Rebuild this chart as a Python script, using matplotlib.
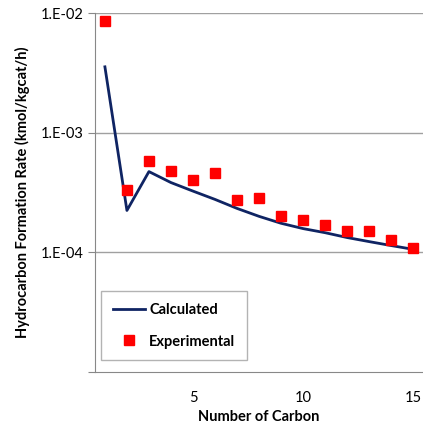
import matplotlib
matplotlib.use("Agg")
import matplotlib.pyplot as plt
from matplotlib.ticker import FixedLocator, NullLocator

plt.rcParams['font.family'] = ['Lato', 'DejaVu Sans']

# carbon number
carbon = [1, 2, 3, 4, 5, 6, 7, 8, 9, 10, 11, 12, 13, 14, 15]
# model values
calculated = [3.55e-3, 2.24e-4, 4.73e-4, 3.83e-4, 3.25e-4, 2.77e-4, 2.33e-4,
              2.0e-4, 1.75e-4, 1.58e-4, 1.46e-4, 1.33e-4, 1.23e-4, 1.14e-4, 1.06e-4]
# measured values
experimental = [8.5e-3, 3.35e-4, 5.75e-4, 4.75e-4, 4.05e-4, 4.6e-4, 2.75e-4,
                2.85e-4, 2.0e-4, 1.85e-4, 1.7e-4, 1.5e-4, 1.5e-4, 1.26e-4, 1.08e-4]

y_ticks = [1e-4, 1e-3, 1e-2]
y_labels = ['1.E-04', '1.E-03', '1.E-02']
x_ticks = [5, 10, 15]

fig = plt.figure(figsize=(4.23, 4.24), dpi=100)
ax = fig.add_axes([0.2246, 0.1226, 0.7754, 0.8467])

ax.plot(carbon, calculated, color='#0F2463', lw=2.0, label='Calculated', zorder=3)
ax.plot(carbon, experimental, ls='none', marker='s', ms=7.5, color='#FF0000',
        mec='#FF0000', label='Experimental', zorder=4)

ax.set_yscale('log')
ax.set_ylim(1e-5, 1e-2)
ax.set_xlim(0.55, 15.45)

ax.yaxis.set_major_locator(FixedLocator([1e-5] + y_ticks))
ax.set_yticklabels([''] + y_labels)
ax.yaxis.set_minor_locator(NullLocator())
ax.set_xticks(x_ticks)
ax.tick_params(axis='x', length=0, pad=14, labelsize=10.5)
ax.tick_params(axis='y', length=5, color='#888888', pad=3, labelsize=10.5)

for yv in y_ticks:
    ax.axhline(yv, color='#A0A0A0', lw=1.0, zorder=1)

for s in ['top', 'right']:
    ax.spines[s].set_visible(False)
ax.spines['left'].set_color('#888888')
ax.spines['bottom'].set_color('#888888')

ax.set_xlabel('Number of Carbon', fontweight='bold', fontsize=10.5, labelpad=3)
ax.set_ylabel('Hydrocarbon Formation Rate (kmol/kgcat/h)', fontweight='bold',
              fontsize=10.5, labelpad=8)

leg = ax.legend(loc='lower left', bbox_to_anchor=(0.018, 0.033), frameon=True,
                fancybox=False, edgecolor='#A0A0A0', prop={'weight': 'bold', 'size': 10.5},
                handlelength=2.2, handletextpad=0.3, labelspacing=1.2,
                borderpad=0.8, borderaxespad=0)
leg.get_frame().set_linewidth(1.0)

fig.savefig('out.png', dpi=100)
